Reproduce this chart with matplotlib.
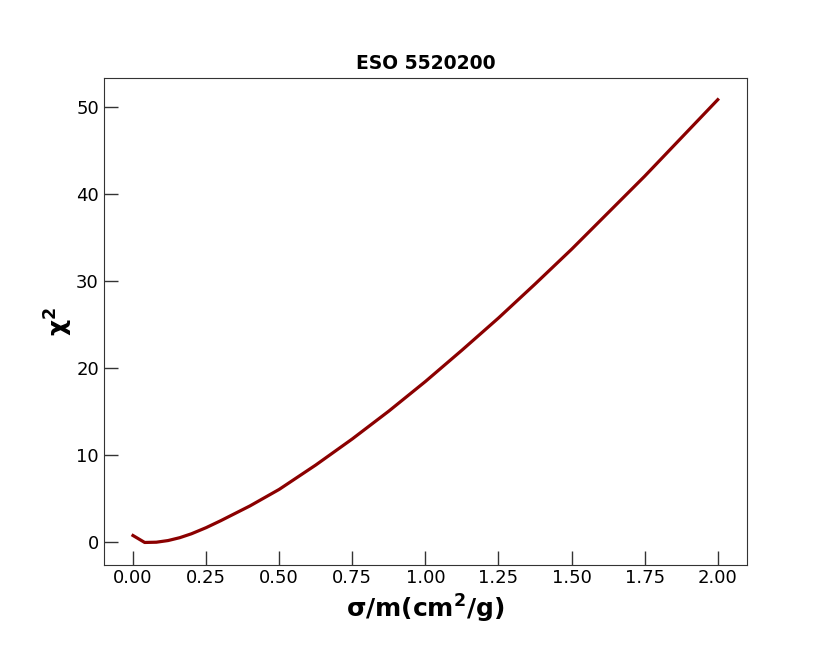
import matplotlib
matplotlib.use('Agg')
import matplotlib.pyplot as plt

# chi^2 versus cross section per unit mass
sigma_m = [0.0, 0.04, 0.08, 0.12, 0.16, 0.20, 0.25, 0.30, 0.40, 0.50,
           0.625, 0.75, 0.875, 1.0, 1.125, 1.25, 1.375, 1.5, 1.625,
           1.75, 1.875, 2.0]
chi2 = [0.8, 0.0, 0.03, 0.22, 0.55, 1.0, 1.7, 2.5, 4.2, 6.1,
        8.9, 11.9, 15.1, 18.5, 22.1, 25.8, 29.7, 33.7, 37.9,
        42.1, 46.5, 50.9]

title = 'ESO 5520200'

fig, ax = plt.subplots(figsize=(8.3, 6.46), dpi=100)
fig.subplots_adjust(left=0.125, right=0.9, top=0.88, bottom=0.126)

ax.plot(sigma_m, chi2, color='darkred', linewidth=2.3)

ax.set_title(title, fontsize=13.5, fontweight='bold')
ax.set_xlabel(r'$\mathbf{\sigma/m(cm^2/g)}$', fontsize=18)
ax.set_ylabel(r'$\mathbf{\chi^2}$', fontsize=18, labelpad=1)

ax.set_xticks([0.0, 0.25, 0.5, 0.75, 1.0, 1.25, 1.5, 1.75, 2.0])
ax.xaxis.set_major_formatter(matplotlib.ticker.FormatStrFormatter('%.2f'))
ax.tick_params(direction='in', length=10, width=1, labelsize=13,
               top=False, right=False, color='#333333')
for s in ax.spines.values():
    s.set_color('#333333')

fig.savefig('out.png', dpi=100)
